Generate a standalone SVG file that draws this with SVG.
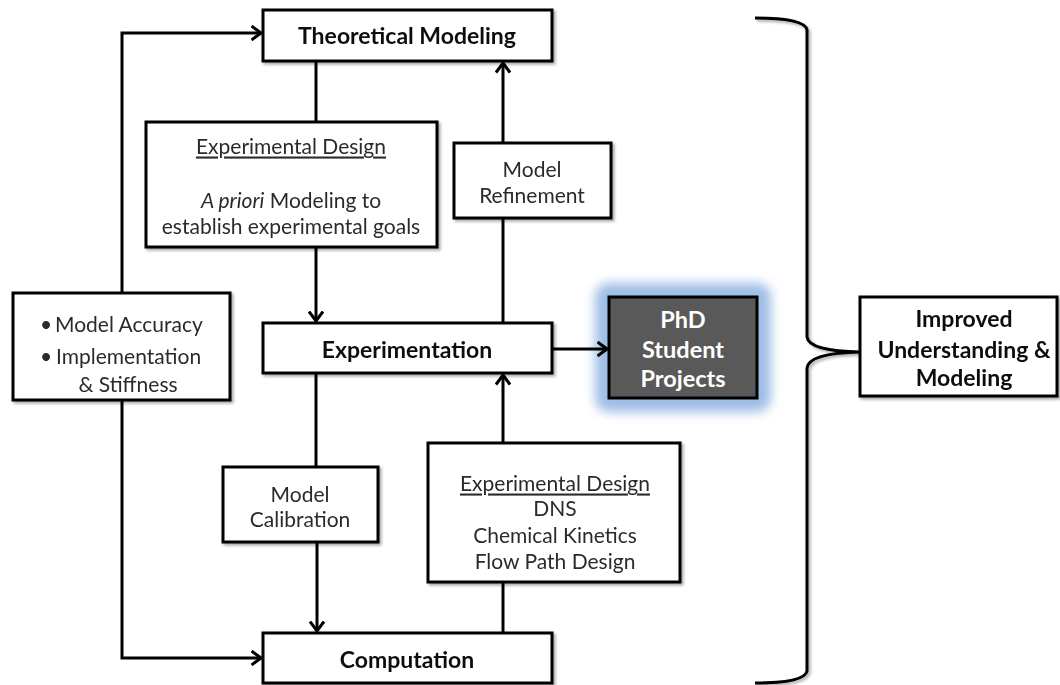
<svg xmlns="http://www.w3.org/2000/svg" width="1060" height="685" viewBox="0 0 1060 685">
<defs>
<style>
.box{fill:#fff;stroke:#000;stroke-width:3}
.ln{fill:none;stroke:#000;stroke-width:3}
.t{font-family:Lato,"Liberation Sans",sans-serif;font-size:21px;fill:#2b2b2b;text-anchor:middle;dominant-baseline:central}
.s{text-anchor:start}
.b{font-family:Lato,"Liberation Sans",sans-serif;font-size:23px;font-weight:bold;fill:#111;text-anchor:middle;dominant-baseline:central}
.w{font-family:Lato,"Liberation Sans",sans-serif;font-size:23.5px;font-weight:bold;fill:#fff;text-anchor:middle;dominant-baseline:central}
.u{text-decoration:underline}
</style>
<marker id="ah" viewBox="0 0 12 16" refX="10.5" refY="8" markerWidth="12" markerHeight="16" markerUnits="userSpaceOnUse" orient="auto">
<path d="M1,1 L10.5,8 L1,15" fill="none" stroke="#000" stroke-width="3"/>
</marker>
<filter id="sh" x="-10%" y="-10%" width="130%" height="130%">
<feGaussianBlur in="SourceAlpha" stdDeviation="1.5"/>
<feOffset dx="2" dy="2" result="o"/>
<feComponentTransfer><feFuncA type="linear" slope="0.35"/></feComponentTransfer>
<feMerge><feMergeNode/><feMergeNode in="SourceGraphic"/></feMerge>
</filter>
<filter id="glow" x="-50%" y="-50%" width="200%" height="200%">
<feGaussianBlur stdDeviation="5.5"/>
</filter>
</defs>

<g id="phd">
<rect x="595" y="283" width="176" height="129" rx="14" fill="#9dbde6" filter="url(#glow)"/>
<rect x="609" y="297" width="148" height="101" fill="#595959" stroke="#000" stroke-width="3"/>
<text class="w" x="683" y="319">PhD</text>
<text class="w" x="683" y="349">Student</text>
<text class="w" x="683" y="378">Projects</text>
</g>

<g id="connectors">
<path class="ln" d="M122,293 V33 H261" marker-end="url(#ah)"/>
<path class="ln" d="M122,400 V658 H261" marker-end="url(#ah)"/>
<path class="ln" d="M316,61 V122"/>
<path class="ln" d="M316,247 V321" marker-end="url(#ah)"/>
<path class="ln" d="M503,323 V218"/>
<path class="ln" d="M503,143 V63" marker-end="url(#ah)"/>
<path class="ln" d="M316,373 V467"/>
<path class="ln" d="M317,542 V631" marker-end="url(#ah)"/>
<path class="ln" d="M503,633 V582"/>
<path class="ln" d="M503,443 V375" marker-end="url(#ah)"/>
<path class="ln" d="M552,349 H607" marker-end="url(#ah)"/>
<path id="bracket" class="ln" filter="url(#sh)" d="M755,18 Q805,18 807,30 V337 Q809,351 860,352 Q809,353 807,368 V671 Q805,683 755,683"/>
</g>

<g id="theoretical" filter="url(#sh)">
<rect class="box" x="263" y="10" width="289" height="51"/>
<text class="b" x="407" y="35">Theoretical Modeling</text>
</g>

<g id="expdesign-top" filter="url(#sh)">
<rect class="box" x="146" y="122" width="291" height="125"/>
<text class="t u" x="291" y="145">Experimental Design</text>
<text class="t" x="291" y="199"><tspan font-style="italic">A priori</tspan> Modeling to</text>
<text class="t" x="291" y="225">establish experimental goals</text>
</g>

<g id="refinement" filter="url(#sh)">
<rect class="box" x="454" y="143" width="157" height="75"/>
<text class="t" x="532" y="168">Model</text>
<text class="t" x="532" y="194">Refinement</text>
</g>

<g id="accuracy" filter="url(#sh)">
<rect class="box" x="13" y="293" width="217" height="107"/>
<text class="t s" x="40" y="323">•</text>
<text class="t s" x="55" y="323">Model Accuracy</text>
<text class="t s" x="40" y="355">•</text>
<text class="t s" x="56" y="355">Implementation</text>
<text class="t" x="128" y="383">&amp; Stiffness</text>
</g>

<g id="experimentation" filter="url(#sh)">
<rect class="box" x="263" y="323" width="289" height="50"/>
<text class="b" x="407" y="349">Experimentation</text>
</g>

<g id="improved" filter="url(#sh)">
<rect class="box" x="860" y="297" width="197" height="99"/>
<text class="b" x="964" y="318">Improved</text>
<text class="b" x="964" y="349">Understanding &amp;</text>
<text class="b" x="964" y="377">Modeling</text>
</g>

<g id="calibration" filter="url(#sh)">
<rect class="box" x="223" y="467" width="155" height="75"/>
<text class="t" x="300" y="493">Model</text>
<text class="t" x="300" y="518">Calibration</text>
</g>

<g id="expdesign-bottom" filter="url(#sh)">
<rect class="box" x="428" y="443" width="252" height="139"/>
<text class="t u" x="555" y="482">Experimental Design</text>
<text class="t" x="555" y="507">DNS</text>
<text class="t" x="555" y="534">Chemical Kinetics</text>
<text class="t" x="555" y="560">Flow Path Design</text>
</g>

<g id="computation" filter="url(#sh)">
<rect class="box" x="263" y="633" width="289" height="50"/>
<text class="b" x="407" y="659">Computation</text>
</g>
</svg>
